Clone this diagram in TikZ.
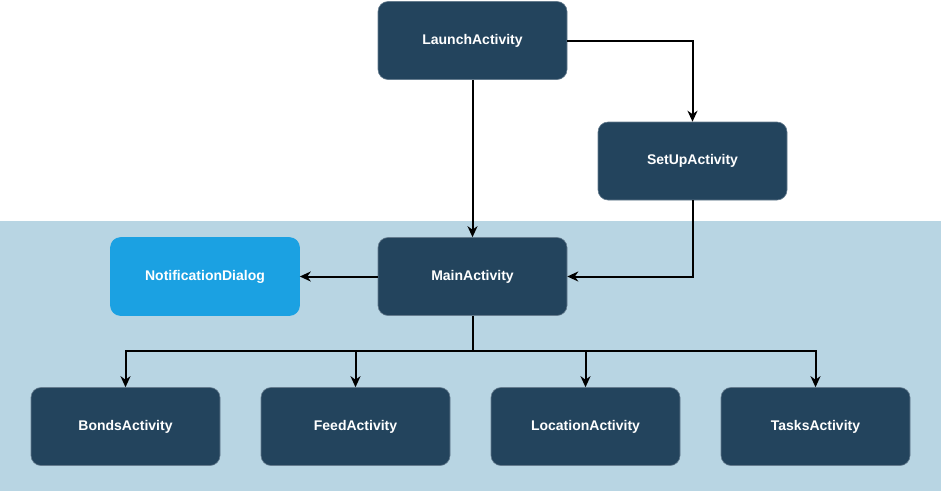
\documentclass[tikz,border=0pt]{standalone}
\usepackage{fontspec}
\setmainfont{Liberation Sans}
\usetikzlibrary{arrows.meta}
\definecolor{darkbox}{HTML}{23445D}
\definecolor{lightbox}{HTML}{1BA1E2}
\definecolor{bgblue}{HTML}{B8D5E3}
\begin{document}
\begin{tikzpicture}[x=1pt,y=-1pt,
  box/.style={draw=darkbox!70!white, line width=0.6pt, fill=darkbox, rounded corners=10pt, minimum width=189pt, minimum height=78pt, inner sep=0pt, text=white, font=\bfseries\fontsize{14}{16}\selectfont},
  lbox/.style={box, fill=lightbox, draw=lightbox},
  conn/.style={draw=black, line width=2pt, -{Stealth[length=11pt,width=10pt,inset=3.5pt]}},
  plain/.style={draw=black, line width=2pt}]
\useasboundingbox (0,0) rectangle (941,491);
\fill[bgblue] (0,221) rectangle (941,491);
\node[box] (launch) at (472.5,40.5) {LaunchActivity};
\node[box] (setup) at (692.5,161) {SetUpActivity};
\node[box] (main) at (472.5,276.5) {MainActivity};
\node[lbox] (notif) at (205,276.5) {NotificationDialog};
\node[box] (bonds) at (125.5,426.5) {BondsActivity};
\node[box] (feed) at (355.5,426.5) {FeedActivity};
\node[box] (loc) at (585.5,426.5) {LocationActivity};
\node[box] (tasks) at (815.5,426.5) {TasksActivity};
\coordinate (j) at (472.5,351);
\draw[conn] (launch) -- (main);
\draw[conn] (launch.east) -| (setup.north);
\draw[conn] (setup.south) |- (main.east);
\draw[conn] (main.west) -- (notif.east);
\draw[plain] (main.south) -- (j);
\draw[conn] (j) -| (bonds.north);
\draw[conn] (j) -| (feed.north);
\draw[conn] (j) -| (loc.north);
\draw[conn] (j) -| (tasks.north);
\end{tikzpicture}
\end{document}
